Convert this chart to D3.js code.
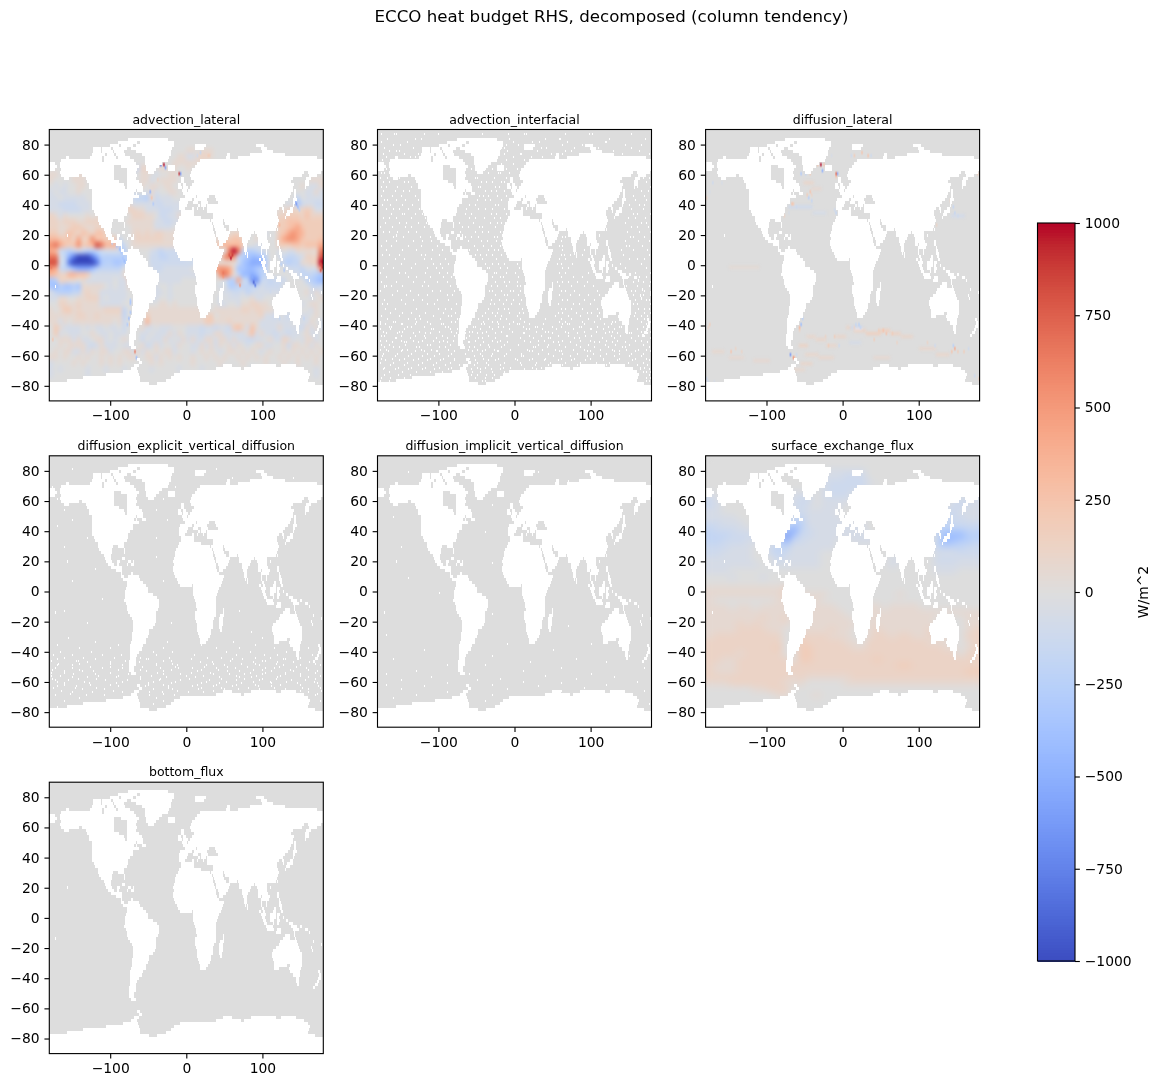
<!DOCTYPE html>
<html><head><meta charset="utf-8">
<script src="https://cdn.jsdelivr.net/npm/d3@7"></script>
<style>
html,body{margin:0;padding:0;background:#fff;}
#stage{position:relative;width:1160px;height:1087px;overflow:hidden;}
canvas,svg{position:absolute;left:0;top:0;}
text{font-family:"DejaVu Sans",sans-serif;fill:#000;}
</style></head>
<body><div id="stage"><canvas id="map" width="1160" height="1087"></canvas><svg id="ink" width="1160" height="1087"></svg></div>
<script>
const panelNames = ["advection_lateral","advection_interfacial","diffusion_lateral",
  "diffusion_explicit_vertical_diffusion","diffusion_implicit_vertical_diffusion","surface_exchange_flux","bottom_flux"];
const lonTicks = [-100,0,100];
const latTicks = [-80,-60,-40,-20,0,20,40,60,80];
const barTicks = [-1000,-750,-500,-250,0,250,500,750,1000];

// matplotlib coolwarm, 33 evenly spaced stops
const coolwarmStops = ["#3b4cc0","#445acc","#4d68d7","#5775e1","#6282ea","#6c8ef1","#779af7","#82a5fb","#8db0fe","#98b9ff","#a3c2ff","#aec9fd","#b8d0f9","#c2d5f4","#ccd9ee","#d5dbe6","#dddddd","#e5d8d1","#ecd3c5","#f1ccb9","#f5c4ad","#f7bba0","#f7b194","#f7a687","#f49a7b","#f18d6f","#ec7f63","#e57058","#de604d","#d55042","#cb3e38","#c0282f","#b40426"];

// Land per latitude band (2 deg tall, centred on the first number), then lon start/end pairs
const landRows = [
[84,-76,-24],[82,-90,-64,-60,-16],[80,-100,-88,-86,-70,-66,-16,12,26,92,102],
[78,-122,-112,-110,-98,-96,-78,-72,-18,12,24,98,106],[76,-122,-112,-110,-96,-94,-82,-66,-20,100,114],
[74,-124,-106,-104,-94,-92,-80,-58,-20,54,58,84,130],
[72,-158,-154,-126,-110,-108,-92,-90,-74,-54,-22,52,58,68,172],
[70,-164,-110,-108,-68,-54,-24,18,180],
[68,-180,-172,-166,-66,-54,-32,14,180],
[66,-180,-170,-166,-94,-86,-62,-52,-36,-24,-14,12,180],
[64,-180,-172,-164,-94,-78,-64,-52,-40,-24,-14,8,180],
[62,-166,-94,-78,-66,-50,-42,6,155,160,178],
[60,-164,-140,-136,-94,-78,-64,5,152,162,172],
[58,-160,-154,-132,-94,-78,-66,-6,-2,6,140,158,164],
[56,-130,-88,-78,-62,-6,-2,10,138,156,162],
[54,-128,-82,-78,-58,-10,-6,-4,0,8,142,156,162],
[52,-127,-80,-78,-56,-10,-5,-4,2,5,141,156,158],
[50,-124,-66,-64,-56,-5,1,2,140,142,144],
[48,-123,-68,-66,-64,-58,-53,-4,138,142,144],
[46,-123,-62,-1,13,15,30,38,136,142,144],
[44,-124,-70,-8,8,11,28,40,134,141,146],
[42,-124,-70,-9,3,9,10,11,16,20,29,42,130,140,143],
[40,-124,-74,-9,1,16,18,20,26,27,128,140,142],
[38,-123,-76,-9,-1,8,10,15,16,22,24,27,122,126,129,137,141],
[36,-121,-76,-6,10,28,120,127,129,133,141],
[34,-119,-78,-7,10,35,119,131,137],
[32,-116,-81,-9,20,35,121,130,132],
[30,-115,-96,-90,-82,-10,32,33,48,50,122],
[28,-114,-97,-82,-80,-13,34,35,49,51,121],
[26,-112,-97,-81,-80,-14,35,37,50,56,120],
[24,-108,-98,-15,36,38,52,57,67,68,118,120,121],
[22,-106,-98,-84,-80,-16,37,39,58,70,89,91,107],
[20,-156,-155,-105,-97,-91,-87,-76,-72,-70,-68,-17,38,40,57,70,86,93,106,110,111],
[18,-103,-94,-91,-88,-78,-76,-72,-68,-16,39,42,55,73,84,94,107],
[16,-98,-84,-17,40,43,52,74,82,94,98,99,108,120,122],
[14,-92,-84,-17,41,44,48,75,80,94,99,100,110,120,122],
[12,-86,-84,-72,-70,-16,43,76,80,98,99,100,109,122,124],
[10,-85,-82,-76,-62,-14,50,76,80,98,100,105,107,122,125],
[8,-83,-60,-12,48,77,78,80,81,98,100,105,106,122,126],
[6,-77,-56,-10,47,80,81,100,102,116,118,123,126],
[4,-77,-52,-8,8,9,46,96,98,101,104,114,118,125,127],
[2,-79,-50,9,44,98,105,110,118,120,124],
[0,-80,-50,9,42,100,104,110,118,120,122,128,129],
[-2,-80,-44,9,41,101,105,110,116,120,123,132,134],
[-4,-80,-38,11,39,102,106,114,116,120,122,135,140],
[-6,-81,-35,12,39,105,114,138,146,150,152],
[-8,-79,-35,13,39,107,115,120,125,140,148,157,160],
[-10,-78,-36,13,40,118,125,142,143,161,163],
[-12,-77,-37,14,40,49,50,130,136,142,143],
[-14,-76,-39,12,40,48,50,127,136,143,145,-172,-171],
[-16,-74,-39,12,39,45,50,124,146,167,168],
[-18,-71,-39,12,37,44,49,122,147,178,179],
[-20,-70,-40,13,35,44,48,118,149,164,166],
[-22,-70,-41,14,36,44,48,114,150,166,167],
[-24,-70,-43,15,35,44,47,113,152],
[-26,-70,-48,15,33,45,47,113,153],
[-28,-71,-49,16,33,114,153],
[-30,-71,-50,17,31,115,153],
[-32,-71,-52,18,29,116,133,137,153],
[-34,-72,-53,18,26,115,122,135,140,141,151],
[-36,-73,-57,137,150,174,176],
[-38,-74,-58,140,150,175,178],
[-40,-73,-62,144,148,174,177],
[-42,-74,-64,145,148,172,175],
[-44,-74,-66,146,148,169,173],
[-46,-75,-66,167,170],
[-48,-75,-66],[-50,-75,-68],[-52,-75,-68],[-54,-72,-66],
[-62,-64,-60],[-64,-62,-58],
[-66,-68,-62,48,60,85,118,125,145],
[-68,-72,-64,40,72,76,155],
[-70,-83,-63,-8,160],
[-72,-105,-62,-16,163],
[-74,-135,-61,-20,162],
[-76,-157,-61,-26,160],
[-78,-180,-48,-38,170],
[-80,-180,180],[-82,-180,180],[-84,-180,180],[-86,-180,180],[-88,-180,180],[-90,-180,180]
];

// Contour steps used by the coarse fields, in W/m^2
const levelUp = {A:60,B:120,C:180,D:250,E:330,F:420,G:520,H:650,I:800,J:1000};
const levelDown = {a:-60,b:-120,c:-180,d:-250,e:-330,f:-420,g:-520,h:-650,i:-800,j:-1000};

// Column tendency from lateral advection: 6 deg x 4 deg cells, lat 88 down to -88, lon -180 eastward
const advectionRows = [
"0","0","0",
"0 0 0 AA0AAA0000 0 0",
"0 0 00000000AA aaABBA0000 0 0",
"0 0 0000000AAA AAAA000000 0 0",
"0 00000000Ab BAA0AA0A00 A000000000 0 0",
"AA000AAA00 00000000a0 AA0a00AA00 0 0 0",
"A0000AAA00 0 AAa0AAAA00 0 0 0000000AAA",
"0a0a00AA00 0 A0AA0AA000 0 0 00000A0aaA",
"a0aa00A000 00000000a0 0aAa00AA00 0 0 000000aaAa",
"aa0aaaaa00 00000aa0bc cdAbaaa000 0 0 0000c0aaaa",
"aabbbbaaa0 a000000Aaa aaabbaaaa0 0 0 00a0ebaabb",
"aaabbbbaa0 0000000BBA Aaaabbbaa0 0 0 AABBABCBaa",
"BAaA0000A0 A0000000BB BAA0bbaaA0 0 0 BBCCCBDBBB",
"BBABBBAABB BA00000AAA AAAaabbaa0 0 0 CCDDDCCCCC",
"BBAABCCBAA BB000000AA AAAaaaa000 0 0 CCDEFDCCCC",
"CCABDCBDCB DDB00000AB ABABBAAAA0 000000000A BB0000Aa00 CDFGFECCCC",
"EEDCDBFBCG DDCCCb00AB BBBBBAAA00 000000AACC DDB00A0000 DFGGFDCCCD",
"GHFDCDGCDE IHEEEdb0AA AAAAAAAA00 000000BDEE EEC00aa000 CCCDDCDDDF",
"FEbcdcbcdd cbaaabd000 00abcbbbaA AA0000000H JHcddcba00 a0aaAAAAAH",
"HHacgijjji gddddddc00 00bbccbbbb 0aa00000GH Gcdeffec00 abccbaBBBI",
"IIacijjjjj ieddeedc00 00bbbbbbbb bbaaa00AAA Abefgggd00 0cdccAABCJ",
"GFbcdfgggf dccccc0000 00abbaaaaa a00000FGGF Aeeffedc00 00abbcaaaG",
"EDBBEEDDCa aaaaaaAB00 000aaaaaaa aaaa000GHF Acffgfdc00 000aacccde",
"edBBAA0Aaa aaaa0aaB00 0000aaaaa0 00000000ad dFbchhcbcb bb0000cdef",
"efdeedeAAA AA0a0aaA00 000a00a000 0000000a0d dcccccabbb b000000bcb",
"acdddccABA Aaaaaaa000 000aa0a000 00000000aa bbacbaaaaa aa0000AaAa",
"aaAA00AABB Ba0aaaa000 00aa00a000 0000000a0a aa00Aaa000 0000000a0A",
"00BBAABAAA Aaaaaa0000 0000AA0A00 0000000aa0 0aAABBAA00 00000a0AA0",
"A0ACCABAAA AABBBBc000 0AAAAAAAAA AAAA00AAAA AABBABBAA0 0000000aA0",
"AAAAAABBAA BAAAAAc000 0CAAAAAAAA AAAABC0AAA AAAAAABaab 0abaaaa0A0",
"AAaA0AAAAA AAAA0Ab000 0EAAAAAAAA AAAACCAAAB AAAAAAaaaa aaa00aaA0a",
"0CAaaaa0a0 aa0aa0b000 Aaa0aaa000 aaabaabaab CDBaDAaaaa AaaaabAaAa",
"0Ca0aaa00A 0aa0aaa000 aa0aaaAaA0 aaabaaAAaa aaaADaAaab aabaa0Aaa0",
"00AAAaAaa0 AAa0a0A000 b0aaaAa0aA aAaaAAaAAa Aaabbaa0Aa aBAa0aAAa0",
"00A0AAAAab aAaaa0aa00 AbaAa00aA0 0aaAaAaA0A aA0a0AAaa0 0AbAA0AaA0",
"0A0AAaaAaA 0AAa00AAaA aA0A0AAa00 0a0A0A0a0A A0A0A0a0A0 0A0A0A0A0A",
"AA0A00A0A0 0A0A0A0AA0 0AAaA0A0A0 0A00A0A0A0 0A0A0A0A00 A0A0A0A0A0",
"a0000A0A00 0A0A0A0000 00A0A00000 0A00000A00 00A0000A00 0A00A000A0",
"a0a00000a0 00a000a000 00a00000a0 000a0000a0 0000a000a0 000a0000a0",
"a0000000a0 0 0 0 0 a0000000a0",
"0","0","0","0"
];

// Spots too small for the coarse grid: lon, lat, value
const advectionSpots = [
[-30,66,1000],[-33,66,-800],[-27,65,-600],[-9,62,900],[-7,60,-600],[-47,49,-500],[-46,45,250],[-44,42,-300],
[145,41,-650],[143,44,-520],[147,39,-420],[149,37,-250],[123,26,330],[-74,-39,420],[-71,-39,650],[-69,-37,330],
[-68,-57,650],[-65,-60,-420],[-175,-48,250],[70,-12,520],[88,-10,-900],[90,-13,-800],[86,-7,-520],[59,6,1000],[61,7,900],[57,7,800],
[48,-5,650],[50,-6,520],[-97,16,-250],[-92,14,-330],[-88,12,-420],[-85,10,-330],[-82,6,-330],[-81,3,-420],[-80,1,-300],
[-74,-22,-300],[-74,-26,-330],[-74,-30,-330],[-75,-34,-420],[-76,-38,-300],[29,74,180],[31,73,180],[14,74,-120],[18,75,-180],[-50,64,180],[-38,58,120],
[124,2,-250],[128,-4,-330],[155,-36,-180],[122,-34,-180],[110,-16,-120],[176,-2,800],[178,0,900],[-178,-1,650],[176,1,800]
];

// Surface exchange: 10 deg x 4 deg cells, lat 88 down to -88
const surfaceRows = [
"0","0","000000 000000 0000aa aaa000 0 0",
"0 0 00aaaa bbb000 0 0",
"0 0 00aabb bbba00 0 0",
"0 0 000abb bbb000 0 0",
"a00000 00000a aa0abb b00000 0 00000a",
"ba0000 00000a bb0aaa a00000 0 00abba",
"ba0000 00000a ba0aaa 0 0 00bbaa",
"aa0000 00000a baaaa0 0 0 0bbaaa",
"aaaa00 00000b caaaaa 0 0 0cbbaa",
"bbaaa0 0000bd daaaaa aaa000 0 bcbbbb",
"cbbbaa 0000dg cbaaaa aaa000 0 ddddcc",
"cccbbb a000he bbaaaa aaaa00 0 bfffdd",
"ccbbba a00bfb baaaa0 0aaa00 0 cfeddc",
"bbbaaa 00bcca aaaaa0 0 0 ccccbb",
"bbaaaa 00bcba aaa000 0 0 aaabbb",
"aaaaaa 000baa aaa000 0 aa0000 bbbaaa",
"aaaaaa a0aaaa aaa000 0 a00000 aaaaaa",
"aaa000 0 0 0 0 aaa000",
"000a00 0a0000 0 0 0 0",
"0 0 0 0 0 0",
"AAAAAA AAAAB0 000000 0 0 0",
"AAAAAA AAAAB0 AAAA00 0 0A0000 0",
"A00000 000AA0 AAA000 0 0 0",
"AAA0AA 0AAAA0 AAAAA0 000AA0 AAAA00 0",
"AAAAAA AAAAA0 AAAAAA 000AAA AAAAAA AAAAAA",
"AAAAAA ABAAB0 AAAAAA A00AAA AAAAAA 0000AA",
"AAAABA BAAAA0 AAAAAA AA0AAA AAAAAA 0000AA",
"AAAABB BBAA00 AAAABA A00ABA AAAAAB 0000AB",
"ABBBBB BBBB00 BBBBAA A00ABB ABBAAB AA00BB",
"BBBBBB BBBB00 CBBBBB AA0BBB BBBBBA AA00AB",
"BBBBBB BBBC00 CCBBBB BAABBB BBBBBB BAA0AB",
"BBBBAB BBBB00 CCBBBB BBBBBB BBBBBB BBB0BB",
"BBAABB BBBBB0 CCBBBB BBBBCB BBBBBB BBBBBB",
"BAAABB BBBBBB BBBBBB BBBBBB BCCBBB BBBBBB",
"BAAABB BBBBBB BBBBBB BBBBBB BBBBBB BBBBCC",
"BBBBBB BBBBBA BAAAAA ABBBBB BBBBBB BBBBBB",
"AAABBB BBBBAA A00000 AAAAAA AAAAAA AAAAAA",
"000000 AABBB0 000000 0 0 0",
"000000 000AA0 00A000 0 0 0",
"0","0","0","0","0"
];

// Lateral diffusion is near zero apart from these spots and short fronts
const diffusionSpots = [
[-30,66,1000],[-28,64,-500],[-33,67,250],[-25,68,250],[-9,61,700],[-7,62,-500],[-10,59,250],[-54,61,-300],[-50,60,-180],[-44,60,180],
[-44,49,250],[-41,47,120],[-45,45,-250],[-42,44,-180],[-48,47,180],[-68,42,250],[-66,41,180],[-62,40,-120],[-57,-40,330],[-54,-38,-420],[-53,-35,-250],[-57,-43,120],
[-69,-58,-650],[-66,-60,520],[-63,-61,120],[-61,-58,-120],[-175,-39,180],[-178,-41,120],[20,-39,-250],[17,-38,-180],[23,-40,-180],[14,-41,120],
[53,-43,250],[57,-44,250],[47,-42,180],[65,-45,180],[40,-48,180],[72,-50,120],[147,-55,420],[145,-52,-250],[150,-56,180],[158,-56,180],[165,-55,-120],[143,-56,250],
[-147,-56,250],[-133,-57,120],[-141,-55,120],[-178,-77,-120],[178,-75,250],[172,-73,-120],[120,-53,-120],[110,-50,120],[-20,-52,180],[-24,-47,120],[-12,-46,180],[-5,-52,-120],
[172,64,-180],[176,62,180],[140,44,120],[144,39,-180],[146,36,-180],[150,33,-120],[122,28,120],[-78,33,120],[-72,36,-60],[16,74,180],[25,75,250],[32,74,250],[38,72,-120],[10,72,-120],[-16,74,-60],
[-172,55,-120],[-160,56,-60],[-175,48,-60],[-179,46,120],[-170,-76,-60],[-179,-75,-120],[-10,35,-180],[-12,37,-120]
];
const diffusionFronts = [
// lat, lon start, lon end, value
[-41,4,16,110],[-43,16,30,130],[-44,30,50,160],[-42,50,62,160],[-45,62,76,130],[-47,76,92,100],[-40,10,26,-110],[-46,-48,-36,90],[-49,-36,-22,100],[-52,-22,-8,90],[-47,-10,4,100],
[-55,100,122,90],[-58,122,140,100],[-52,-58,-46,130],[-58,-50,-32,90],[-61,-32,-12,90],[-64,-56,-40,100],[-60,-150,-130,70],[-62,-118,-96,70],[-56,-172,-156,80],[-68,-66,-50,80],
[40,-72,-58,-100],[38,-58,-40,-110],[36,-40,-22,-70],[56,-52,-38,100],[52,-42,-28,70],[34,142,160,-90],[-1,-150,-110,50],[-50,8,24,-70],[-60,40,62,70]
];

// White cells where the term is exactly zero: latitude, then longitudes
const interfacialGaps = [
[88,-176,-159,-157,-120,-101,-44,-9,12,15,66,97,101,153],[85,-168,-131,-124,-74,-8,40,58,59,124,171],[83,-176,-142,-3,22,31,68,118,119],[81,-160,-151,-96,-12,4,62,88,145,166],
[79,-172,-134,-18,-15,34,41,77,109,152],[77,-166,-156,-153,-11,29,66,74,129,163],[75,-174,-146,-128,-14,6,8,47,62,141,176],[73,-169,-138,-132,-2,21,36,120,150],
[71,-175,-164,-149,-136,-12,12,44,179],[68,-46,-44,-18,-2,177],[65,-178,-170,-58,-40,-30,-12,2],[62,-176,-172,-160,-48,-36,-22,-20,-8,170],
[59,-178,-168,-152,-53,-50,-28,-12,168,176],[56,-174,-165,-146,-141,-45,-38,-30,-18,-14,172],[53,-176,-169,-155,-137,-48,-46,-26,-21,160,178],[50,-173,-158,-147,-139,-40,-32,-25,-15,165,175],
[47,-176,-162,-150,-131,-47,-42,-36,-24,-12,155,169],[44,-172,-168,-156,-145,-128,-50,-40,-33,-18,158,172],[41,-175,-164,-148,-135,-60,-52,-26,-22,150,163,170],
[38,-170,-160,-152,-141,-126,-65,-48,-40,-30,-14,152,168],[35,-163,-148,-146,-132,-122,-66,-58,-32,-25,-12,155,160,177],[32,-174,-165,-156,-137,-118,-60,-52,-41,-28,-20,149,158,171],
[29,-171,-152,-143,-128,-117,-73,-55,-33,-24,-18,145,165,172],[26,-177,-161,-145,-136,-119,-70,-62,-47,-44,-26,-15,153,160,175],[23,-173,-166,-155,-140,-130,-72,-52,-43,-36,-20,147,163,178],
[20,-160,-147,-125,-112,-66,-58,-48,-28,-23,62,66,151,155,170],[17,-169,-156,-134,-122,-110,-62,-45,-37,-25,-19,60,145,161,176],[14,-176,-163,-140,-124,-102,-54,-42,-32,-20,58,62,146,150,167],
[11,-170,-148,-130,-109,-96,-60,-50,-36,-28,-22,62,90,139,155,173],[8,-175,-165,-153,-124,-118,-100,-52,-46,-38,-30,-18,60,64,72,88,142,176],[5,-158,-146,-120,-110,-92,-44,-25,58,66,150,160,170],
[2,-168,-150,-132,-108,-98,-88,-40,-30,-22,-14,2,55,60,75,138,165],[-1,-174,-160,-136,-115,-104,-96,-37,-34,-20,-10,5,62,70,145,172],[-4,-178,-152,-144,-118,-100,-90,-28,-25,-12,0,58,66,96,158,177],
[-7,-169,-141,-130,-112,-95,-84,-30,-20,-16,4,60,76,88,148,163,172],[-10,-176,-156,-134,-120,-103,-90,-26,-15,-8,2,55,62,70,82,94,155,168,178],[-13,-170,-163,-148,-122,-114,-86,-31,-23,-12,3,6,58,74,90,102,146,160,176],
[-16,-177,-155,-138,-109,-98,-80,-34,-30,-18,-6,-2,7,60,66,78,108,152,158,170],[-19,-162,-143,-128,-116,-90,-83,-26,-15,-10,4,58,72,84,96,110,155,168,178],[-22,-172,-150,-134,-122,-102,-88,-31,-21,-12,-3,8,62,68,90,104,158,172,176],
[-25,-175,-168,-144,-115,-106,-78,-33,-28,-16,-5,5,56,76,84,98,155,160,178],[-28,-171,-158,-130,-101,-92,-84,-36,-22,-14,-9,9,60,66,74,88,108,162,170,176],
[-31,-164,-149,-137,-118,-95,-79,-40,-30,-24,-8,5,10,56,62,80,94,100,110,158,170,178],[-33,-176,-152,-126,-108,-88,-84,-44,-26,-18,2,52,70,86,108,156,165,174],
[-35,-168,-141,-132,-125,-98,-76,-48,-35,-20,-12,6,40,60,74,96,112,160,170],[-37,-178,-160,-158,-130,-116,-84,-79,-42,-30,-24,-2,12,58,66,88,104,128,131,165,178],
[-38,-177,-171,-150,-148,-131,-112,-97,-94,-70,-45,-41,-22,-8,3,5,19,37,62,68,71,90,117,126,149,172],
[-40,-165,-163,-142,-136,-120,-92,-88,-55,-52,-34,-22,-16,10,26,29,48,60,84,87,108,122,136,139,168],
[-41,-178,-164,-146,-110,-108,-86,-76,-46,-30,-8,14,18,36,54,76,98,100,116,130,160,172],
[-43,-174,-152,-149,-126,-100,-84,-60,-56,-38,-18,-4,28,40,43,66,90,106,124,127,145,166,178],
[-44,-169,-155,-134,-118,-112,-78,-66,-50,-44,-26,10,12,48,70,82,118,134,150,153,174],
[-46,-176,-172,-150,-131,-120,-96,-80,-74,-60,-36,-12,-10,18,34,56,70,92,100,126,138,162,170],
[-47,-158,-156,-138,-118,-104,-90,-64,-48,-44,-26,6,24,44,46,78,84,114,130,152,178],
[-49,-177,-170,-150,-134,-122,-108,-94,-82,-52,-30,-20,12,30,38,62,86,98,120,134,158,166],
[-50,-162,-146,-143,-128,-100,-90,-62,-60,-42,-24,-10,20,50,56,72,104,110,128,144,174],
[-52,-176,-166,-145,-116,-112,-86,-72,-68,-46,-36,-14,4,30,44,58,80,96,118,132,150,168],
[-53,-172,-160,-153,-130,-126,-100,-92,-60,-54,-34,-18,24,26,42,66,86,104,122,140,144,176],
[-55,-178,-170,-149,-142,-124,-110,-88,-62,-50,-40,-28,-6,16,36,52,76,90,112,128,146,162,172],
[-56,-167,-150,-132,-120,-104,-102,-80,-56,-44,-24,-22,18,22,58,60,94,98,130,136,158,178],
[-58,-174,-155,-136,-116,-100,-84,-66,-46,-30,-12,8,30,44,62,82,102,120,136,152,168],
[-59,-175,-158,-140,-122,-106,-88,-54,-44,-32,-14,8,10,50,72,94,112,130,150,166],
[-61,-176,-162,-146,-128,-112,-94,-80,-60,-42,-22,0,22,40,60,78,98,116,136,158,172],
[-62,-171,-152,-134,-116,-98,-80,-52,-36,-26,2,18,38,56,74,92,116,134,154,176],
[-64,-178,-160,-142,-122,-104,-86,-50,-38,-14,6,28,46,66,86,106,124,148,168],
[-65,-164,-146,-128,-108,-92,-74,-54,-36,-20,8,26,44,62,82,100,120,160,174],
[-67,-172,-154,-136,-118,-100,-84,-50,-40,-16,-6,22,34,150,164,170],
[-68,-174,-158,-140,-122,-106,-88,-58,-46,-32,-20,12,28,164,176],
[-70,-165,-148,-130,-112,-96,-56,-46,-30,-14,168,172,178],[-72,-172,-154,-138,-58,-50,-38,-28,176],[-74,-176,-164,-146,-52,-40,-30,172,178],[-76,-178,-166,-44,-40,172,176]
];
const explicitGaps = [
[82,-150,40],[76,60,140],[70,-176,-14],[62,-170,-30],[55,-160,-40],[48,-150,-25],[44,-170],[36,-130,-40],[30,-160],[24,-40],[16,-120],[8,-150,-30],[-4,-110],[-12,-160,70],[-20,-130,-20],[-26,85],
[-30,-155,100],[-33,-120,-25,62],[-35,-170,-90,20,90],[-37,-140,-100,-30,40,70,115,160],[-39,-165,-125,-44,-18,52,84,132],
[-41,-175,-150,-110,-85,-40,10,66,102,120,165],[-43,-160,-135,-95,-60,-22,28,46,90,110,150],[-44,-170,-120,-52,-50,6,60,74,128,130,172],
[-45,-178,-145,-142,-80,-30,-20,58,104,100],[-46,-130,-100,-62,18,34,88,120,140,162],[-47,-168,-140,-100,-40,-18,36,72,90,118,170],
[-48,-170,-150,-84,-40,-12,26,50,96,128,150,176],[-49,-126,-100,-58,-14,24,54,80,122,144],[-50,-172,-150,-110,-84,-34,-10,8,40,64,104,116,158],
[-51,-176,-140,-90,-60,-20,20,42,88,100,136,160],[-52,-160,-136,-122,-52,-30,14,54,70,112,140,172],[-53,-178,-160,-100,-72,-38,6,32,84,104,130,170],
[-54,-148,-120,-76,-30,-8,36,56,76,100,130,150],[-55,-178,-165,-116,-90,-46,0,22,66,92,124,150,176],[-56,-150,-130,-92,-60,-26,12,44,70,86,120,160],
[-57,-176,-142,-118,-60,-34,4,46,76,100,118,170],[-58,-172,-155,-106,-78,-36,-8,30,66,96,138,156],[-59,-170,-134,-84,-44,-14,26,52,88,110,132,168],
[-60,-160,-128,-92,-50,-20,20,44,72,112,146,172],[-61,-160,-126,-100,-50,-30,14,40,66,90,124,150],[-62,-170,-145,-90,-54,-24,8,36,60,94,112,174],
[-63,-175,-146,-118,-60,-24,20,46,82,116,152,176],[-64,-136,-108,-44,-18,16,50,68,96,130,160],[-65,-164,-96,-12,36,150,178],[-66,-150,-124,-84,-48,-32,2,22,160],
[-67,-152,-30,172],[-68,-172,-132,-108,-48,-16,170],[-70,-140,-40],[-72,-160,-30,176],[-74,-120,-44],[-76,-170]
];
const implicitGaps = [
[80,-140,30],[74,70],[66,-176],[58,-30],[50,-160],[40,-40],[30,-150],[20,-30],[10,-140],[0,-100],[-14,-30],[-22,70],[-28,-170],[-34,-10,100],[-38,-120,50],[-42,-30,150],
[-44,-160,80],[-46,20,120],[-48,-90,-40],[-50,60,170],[-52,-130,10],[-54,-170,-60,100],[-55,40],[-56,-110,130],[-57,-20,80],[-58,-150,-50],[-59,10,160],[-60,-90,60],
[-61,-170,-30,120],[-62,-120,30],[-63,90],[-64,-150,-10],[-65,60,170],[-66,-90],[-68,-130,-30],[-70,-160],[-72,-40],[-74,176]
];

const colour = d3.scaleLinear()
  .domain(coolwarmStops.map((_, i) => -1000 + 2000 * i / (coolwarmStops.length - 1)))
  .range(coolwarmStops).interpolate(d3.interpolateRgb).clamp(true);

const plotW = 274, plotH = 271.4;
const columnLefts = [49.3, 377.5, 705.6];
const rowTops = [129.5, 455.8, 782.2];
const lon = d3.scaleLinear().domain([-180, 180]).range([0, plotW]);
const lat = d3.scaleLinear().domain([90, -90]).range([0, plotH]);
const layerH = Math.ceil(plotH);

function makeCanvas(w, h) { const c = document.createElement("canvas"); c.width = w; c.height = h; return c; }

function levelOf(ch) { return levelUp[ch] ?? levelDown[ch] ?? 0; }

function parseRows(rows, groupLen) {
  return rows.map(r => r.split(" ").map(g => g.padEnd(groupLen, "0")).join("").padEnd(groupLen * 6, "0"));
}

// Paints a coarse field into one pixel per cell, then lets the browser resample it to the plot
function paintField(ctx, rows, groupLen, softPx) {
  const parsed = parseRows(rows, groupLen);
  const small = makeCanvas(groupLen * 6, parsed.length);
  const s = small.getContext("2d");
  parsed.forEach((row, y) => {
    for (let x = 0; x < groupLen * 6; x++) { s.fillStyle = colour(levelOf(row[x])); s.fillRect(x, y, 1, 1); }
  });
  ctx.imageSmoothingEnabled = true; ctx.imageSmoothingQuality = "high";
  ctx.drawImage(small, 0, 0, plotW, plotH);
  ctx.filter = `blur(${softPx}px)`;
  ctx.drawImage(small, 0, 0, plotW, plotH);
  ctx.filter = "none";
}

// Fine detail on a 2 deg grid, transparent where nothing is marked
function paintSpots(ctx, spots, fronts) {
  const gridX = d3.scaleLinear().domain([-180, 180]).range([0, 180]);
  const gridY = d3.scaleLinear().domain([90, -90]).range([0, 90]);
  const soft = makeCanvas(180, 90), fine = makeCanvas(180, 90);
  const b = soft.getContext("2d"), f = fine.getContext("2d");
  (fronts || []).forEach(([la, a, e, v]) => { b.fillStyle = colour(v); b.fillRect(Math.floor(gridX(a)), Math.floor(gridY(la)), Math.ceil(gridX(e) - gridX(a)), 1); });
  spots.forEach(([lo, la, v]) => { f.fillStyle = colour(v); f.fillRect(Math.floor(gridX(lo)), Math.floor(gridY(la)), 1, 1); });
  ctx.imageSmoothingEnabled = true; ctx.imageSmoothingQuality = "high";
  ctx.filter = "blur(0.8px)";
  ctx.drawImage(soft, 0, 0, plotW, plotH);
  ctx.filter = "none";
  ctx.drawImage(fine, 0, 0, plotW, plotH);
}

// Ocean mask: everything minus land rows (corners rounded) minus the zero-valued cells of that term
function oceanMask(gaps) {
  const raw = makeCanvas(plotW, layerH);
  const r = raw.getContext("2d");
  r.fillStyle = "#000"; r.fillRect(0, 0, plotW, layerH);
  r.globalCompositeOperation = "destination-out";
  landRows.forEach(([la, ...ends]) => {
    const y0 = Math.round(lat(la + 1)), y1 = Math.round(lat(la - 1));
    for (let i = 0; i < ends.length; i += 2) {
      const x0 = Math.round(lon(ends[i])), x1 = Math.round(lon(ends[i + 1]));
      r.fillRect(x0, y0, Math.max(1, x1 - x0), y1 - y0);
    }
  });
  const m = makeCanvas(plotW, layerH);
  const g = m.getContext("2d", {willReadFrequently: true});
  g.globalCompositeOperation = "copy";
  g.filter = "blur(0.7px)"; g.drawImage(raw, 0, 0); g.filter = "none";
  const img = g.getImageData(0, 0, plotW, layerH);
  for (let i = 3; i < img.data.length; i += 4) img.data[i] = img.data[i] > 140 ? 255 : 0;
  g.globalCompositeOperation = "source-over";
  g.putImageData(img, 0, 0);
  // the blur fades at the frame, so the outer strips come straight from the land rows
  g.globalCompositeOperation = "copy";
  const edge = makeCanvas(plotW, layerH), e = edge.getContext("2d");
  e.drawImage(m, 0, 0);
  e.clearRect(0, 0, plotW, 2); e.clearRect(0, layerH - 2, plotW, 2); e.clearRect(0, 0, 2, layerH); e.clearRect(plotW - 2, 0, 2, layerH);
  e.drawImage(raw, 0, 0, plotW, 2, 0, 0, plotW, 2);
  e.drawImage(raw, 0, layerH - 2, plotW, 2, 0, layerH - 2, plotW, 2);
  e.drawImage(raw, 0, 0, 2, layerH, 0, 0, 2, layerH);
  e.drawImage(raw, plotW - 2, 0, 2, layerH, plotW - 2, 0, 2, layerH);
  g.drawImage(edge, 0, 0);
  g.globalCompositeOperation = "destination-out";
  (gaps || []).forEach(([la, ...lons]) => {
    lons.forEach(lo => g.fillRect(Math.round(lon(lo)), Math.round(lat(la)), 1, 2));
  });
  return m;
}

const painters = {
  advection_lateral: c => { paintField(c, advectionRows, 10, 1.6); paintSpots(c, advectionSpots); },
  diffusion_lateral: c => { c.fillStyle = colour(0); c.fillRect(0, 0, plotW, layerH); paintSpots(c, diffusionSpots, diffusionFronts); },
  surface_exchange_flux: c => paintField(c, surfaceRows, 6, 3)
};
const panelGaps = {
  advection_interfacial: interfacialGaps,
  diffusion_explicit_vertical_diffusion: explicitGaps,
  diffusion_implicit_vertical_diffusion: implicitGaps
};

const main = document.getElementById("map").getContext("2d");
const svg = d3.select("#ink");
const tickPx = 4.86, tickPad = 4.86, fontPx = 13.89, lineW = 1.11;

svg.append("text").attr("x", 611.5).attr("y", 22).attr("text-anchor", "middle")
  .style("font-size", "16.67px").text("ECCO heat budget RHS, decomposed (column tendency)");

panelNames.forEach((name, i) => {
  const x0 = columnLefts[i % 3], y0 = rowTops[Math.floor(i / 3)];
  const layer = makeCanvas(plotW, layerH);
  const c = layer.getContext("2d");
  if (painters[name]) painters[name](c); else { c.fillStyle = colour(0); c.fillRect(0, 0, plotW, layerH); }
  c.globalCompositeOperation = "destination-in";
  c.drawImage(oceanMask(panelGaps[name]), 0, 0);
  main.drawImage(layer, Math.round(x0), Math.round(y0));

  const g = svg.append("g").attr("transform", `translate(${x0},${y0})`);
  const xAxis = d3.axisBottom(lon).tickValues(lonTicks).tickSize(tickPx).tickPadding(tickPad).tickFormat(d3.format("d"));
  const yAxis = d3.axisLeft(lat).tickValues(latTicks).tickSize(tickPx).tickPadding(tickPad).tickFormat(d3.format("d"));
  [g.append("g").attr("transform", `translate(0,${plotH})`).call(xAxis), g.append("g").call(yAxis)].forEach(a => {
    a.select(".domain").remove();
    a.selectAll("line").attr("stroke", "#000").attr("stroke-width", lineW);
    a.selectAll("text").style("font-size", fontPx + "px").style("font-family", '"DejaVu Sans"');
  });
  g.append("rect").attr("width", plotW).attr("height", plotH).attr("fill", "none").attr("stroke", "#000").attr("stroke-width", lineW);
  g.append("text").attr("x", plotW / 2).attr("y", -6).attr("text-anchor", "middle").style("font-size", "12.5px").text(name);
});

// Colour bar
const barX = 1037.5, barW = 37.5, barTop = 223, barBottom = 961;
const barScale = d3.scaleLinear().domain([-1000, 1000]).range([barBottom, barTop]);
const bar = svg.append("g").attr("shape-rendering", "crispEdges");
const bands = d3.range(256).map(i => -1000 + 2000 * i / 256);
bar.selectAll("rect.band").data(bands).join("rect").attr("class", "band")
  .attr("x", barX).attr("width", barW)
  .attr("y", d => barScale(d + 2000 / 256))
  .attr("height", d => barScale(d) - barScale(d + 2000 / 256) + 1)
  .attr("fill", d => colour(d + 1000 / 256));
svg.append("rect").attr("x", barX).attr("y", barTop).attr("width", barW).attr("height", barBottom - barTop)
  .attr("fill", "none").attr("stroke", "#000").attr("stroke-width", lineW);
const barAxis = svg.append("g").attr("transform", `translate(${barX + barW},0)`)
  .call(d3.axisRight(barScale).tickValues(barTicks).tickSize(tickPx).tickPadding(tickPad).tickFormat(d3.format("d")));
barAxis.select(".domain").remove();
barAxis.selectAll("line").attr("stroke", "#000").attr("stroke-width", lineW);
barAxis.selectAll("text").style("font-size", fontPx + "px").style("font-family", '"DejaVu Sans"');
svg.append("text").attr("transform", "translate(1148,592) rotate(-90)").attr("text-anchor", "middle")
  .style("font-size", fontPx + "px").text("W/m^2");
</script></body></html>
